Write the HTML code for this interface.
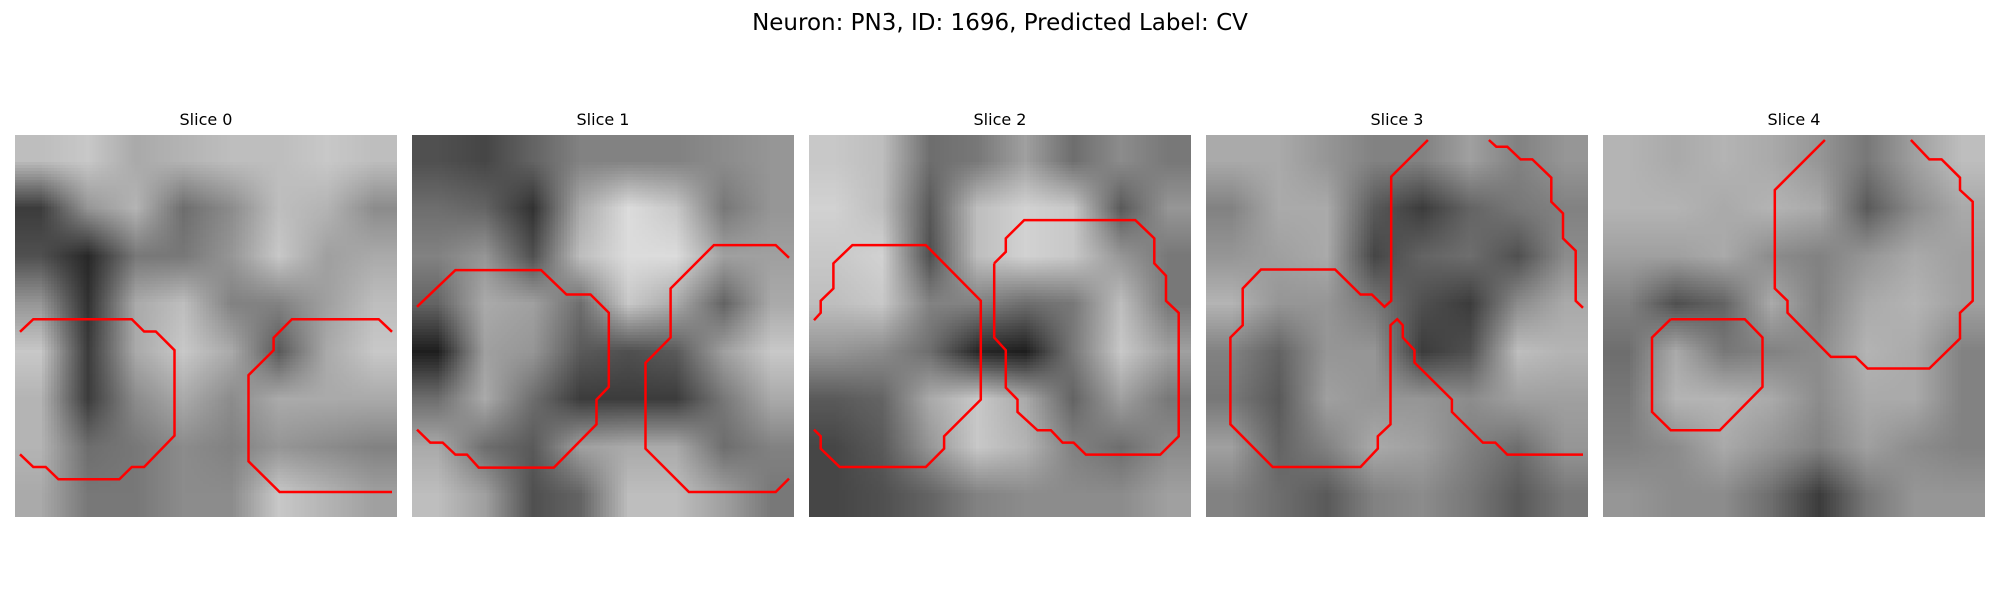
<!DOCTYPE html>
<html><head><meta charset="utf-8"><style>
body{margin:0;background:#fff;width:2000px;height:600px;overflow:hidden;font-family:"DejaVu Sans","Liberation Sans",sans-serif;position:relative}
#title{position:absolute;top:10px;left:0;width:2000px;text-align:center;font-size:23px;color:#000}
.pt{position:absolute;top:110px;width:382px;text-align:center;font-size:16px;color:#000}
canvas{position:absolute;top:135px;width:382px;height:382px}
svg{position:absolute;left:0;top:0}
</style></head><body>
<div id="title">Neuron: PN3, ID: 1696, Predicted Label: CV</div>
<div id="root"></div>
<svg id="ov" width="2000" height="600"></svg>
<script>
const panelTitles=["Slice 0","Slice 1","Slice 2","Slice 3","Slice 4"];
const grid0=[[190,200,170,180,190,190,200,190],[60,150,180,110,140,190,180,140],[80,40,120,120,150,200,160,170],[150,50,170,190,130,130,160,190],[200,60,170,200,170,90,170,200],[180,60,140,170,140,170,170,170],[180,110,120,140,130,150,140,130],[170,120,120,140,140,200,180,160]];
const grid1=[[80,70,100,130,130,130,140,150],[110,100,50,170,220,200,120,150],[130,150,80,190,220,220,160,160],[100,170,160,110,200,170,100,170],[30,160,150,90,80,90,160,200],[110,170,110,60,60,60,120,170],[170,110,90,160,170,170,110,130],[190,160,80,100,190,190,160,120]];
const grid2=[[200,190,110,120,160,110,140,120],[210,190,90,190,210,200,90,150],[200,210,80,190,210,200,150,120],[190,200,130,130,110,120,190,120],[150,140,110,40,30,120,200,160],[90,100,170,200,170,100,160,120],[70,90,150,200,180,130,110,140],[70,80,100,130,140,140,140,160]];
const grid3=[[170,170,150,130,130,160,130,150],[130,170,170,90,60,100,120,130],[150,160,170,70,100,110,80,140],[180,150,150,120,80,60,140,170],[130,100,150,150,60,80,190,180],[120,90,160,150,150,140,160,160],[160,100,130,170,160,130,110,150],[130,110,90,130,140,120,90,120]];
const grid4=[[180,170,180,170,150,120,160,190],[180,180,170,180,170,90,140,170],[160,160,170,140,130,150,170,160],[130,80,100,170,130,170,180,160],[110,170,120,130,140,180,170,130],[120,180,180,170,140,170,170,130],[130,140,170,150,130,160,140,130],[150,140,140,110,60,120,150,150]];
const grids=[grid0,grid1,grid2,grid3,grid4];
const contours0=[[[30,605],[70,567],[365,567],[402,604],[437,604],[493,660],[493,916],[402,1010],[365,1010],[328,1047],[145,1047],[107,1010],[70,1010],[30,972]],[[1145,605],[1105,567],[845,567],[790,623],[790,660],[715,735],[715,993],[808,1085],[1145,1085]]];
const contours1=[[[30,530],[145,420],[402,420],[478,493],[550,493],[605,548],[605,770],[568,808],[568,882],[440,1012],[215,1012],[180,973],[145,973],[107,937],[70,937],[30,898]],[[1145,383],[1105,345],[920,345],[790,475],[790,622],[715,698],[715,955],[845,1085],[1105,1085],[1145,1045]]];
const contours2=[[[30,570],[50,548],[50,512],[88,475],[88,400],[145,345],[365,345],[530,512],[530,808],[420,918],[420,955],[365,1010],[107,1010],[50,955],[50,918],[30,898]],[[570,400],[605,365],[605,325],[660,270],[993,270],[1050,325],[1050,400],[1085,437],[1085,512],[1123,548],[1123,918],[1068,973],[845,973],[808,937],[775,937],[740,900],[700,900],[640,845],[640,808],[605,772],[605,660],[570,622],[570,400]]];
const contours3=[[[680,30],[570,140],[570,512],[550,530],[512,493],[478,493],[402,418],[180,418],[125,475],[125,585],[88,622],[88,882],[215,1010],[478,1010],[530,955],[530,918],[568,882],[568,585],[588,567],[605,585],[605,622],[640,660],[640,697],[752,808],[752,845],[845,937],[882,937],[918,973],[1145,973]],[[863,30],[885,50],[918,50],[958,88],[993,88],[1050,143],[1050,215],[1085,250],[1085,325],[1123,362],[1123,512],[1145,533]]];
const contours4=[[[680,30],[530,180],[530,475],[568,512],[568,548],[698,680],[772,680],[808,715],[993,715],[1085,625],[1085,548],[1123,512],[1123,215],[1085,180],[1085,143],[1030,88],[993,88],[938,30]],[[218,567],[440,567],[493,622],[493,770],[365,900],[218,900],[162,845],[162,622],[218,567]]];
const contours=[contours0,contours1,contours2,contours3,contours4];

const root=document.getElementById('root');
const ov=document.getElementById('ov');
const NS='http://www.w3.org/2000/svg';
const panelX=i=>15+i*397, panelY=135, S=382;
const mapC=v=>(v-15)/1145*S;
grids.forEach((g,i)=>{
  const c=document.createElement('canvas');
  
  
  const n=g.length;c.width=n;c.height=n;
  c.style.left=panelX(i)+'px';
  const ctx=c.getContext('2d');
  g.forEach((row,r)=>row.forEach((v,k)=>{ctx.fillStyle=`rgb(${v},${v},${v})`;ctx.fillRect(k,r,1,1);}));
  root.appendChild(c);
  const t=document.createElement('div');
  t.className='pt';t.style.left=panelX(i)+'px';t.textContent=panelTitles[i];
  
  
  root.appendChild(t);
  contours[i].forEach((pts,j)=>{
    const p=document.createElementNS(NS,'polyline');
    p.setAttribute('points',pts.map(q=>(panelX(i)+mapC(q[0])).toFixed(1)+','+(panelY+mapC(q[1])).toFixed(1)).join(' '));
    p.setAttribute('fill','none');p.setAttribute('stroke','#ff0000');p.setAttribute('stroke-width','2.5');
    
    
    ov.appendChild(p);
  });
});
</script>
</body></html>
